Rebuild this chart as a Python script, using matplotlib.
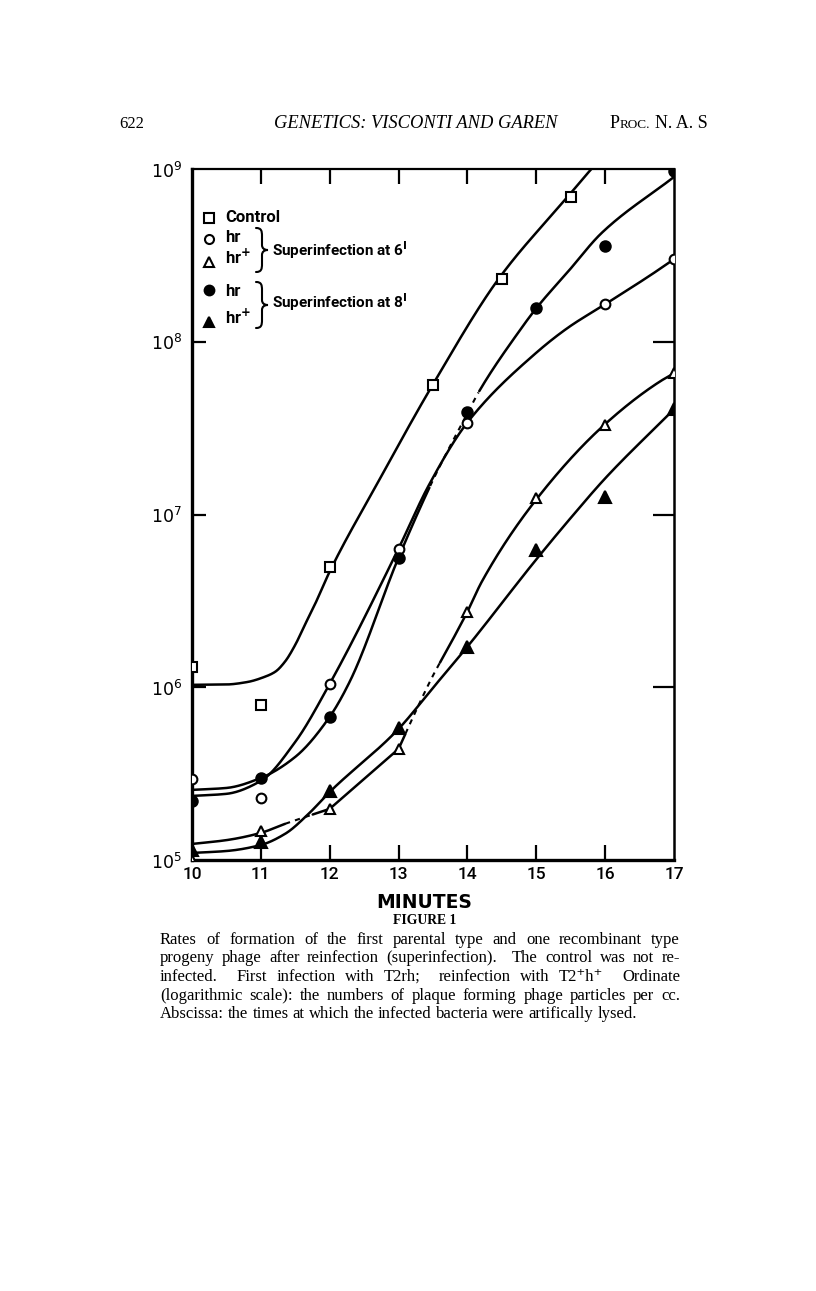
import re
import numpy as np
import matplotlib
matplotlib.use("Agg")
import matplotlib.pyplot as plt
from matplotlib.path import Path
from matplotlib.patches import PathPatch
from matplotlib.lines import Line2D
from matplotlib.transforms import Affine2D
from matplotlib.ticker import NullLocator

W, H = 816, 1291

# ---------------- data ----------------
minute_ticks = [10, 11, 12, 13, 14, 15, 16, 17]
decade_ticks = [1e5, 1e6, 1e7, 1e8, 1e9]
decade_labels = [r"$10^{5}$", r"$10^{6}$", r"$10^{7}$", r"$10^{8}$", r"$10^{9}$"]

# measured points
ctrl_t = [10, 11, 12, 13.5, 14.5, 15.5]
ctrl_v = [1.31e6, 7.9e5, 5.0e6, 5.6e7, 2.3e8, 6.9e8]
hr6_t = [10, 11, 12, 13, 14, 16, 17]
hr6_v = [2.95e5, 2.3e5, 1.05e6, 6.3e6, 3.4e7, 1.65e8, 3.0e8]
hrp6_t = [10, 11, 12, 13, 14, 15, 16, 17]
hrp6_v = [1.0e5, 1.47e5, 1.98e5, 4.4e5, 2.74e6, 1.24e7, 3.3e7, 6.6e7]
hr8_t = [10, 11, 12, 13, 14, 15, 16, 17]
hr8_v = [2.2e5, 3.0e5, 6.7e5, 5.6e6, 3.9e7, 1.56e8, 3.6e8, 9.7e8]
hrp8_t = [10, 11, 12, 13, 14, 15, 16, 17]
hrp8_v = [1.14e5, 1.27e5, 2.5e5, 5.8e5, 1.72e6, 6.2e6, 1.26e7, 4.1e7]

# hand-drawn fitted curves of the original: knots (minutes, log10 count);
# a curve may consist of several pieces that meet at a corner
ctrl_fit = [
    ([10, 10.5, 10.8, 11.06, 11.21, 11.35, 11.5, 11.64, 11.79, 12.0, 12.7, 13.5, 14.46, 15.44, 15.8, 16.1],
     [6.014, 6.016, 6.03, 6.061, 6.09, 6.148, 6.246, 6.362, 6.484, 6.67, 7.186, 7.754, 8.368, 8.832, 9.0, 9.13]),
]
hr6_fit = [
    ([10, 10.5, 11, 11.5, 12, 13, 13.44, 14, 14.99, 15.47, 16, 16.68, 17],
     [5.371, 5.383, 5.458, 5.684, 6.020, 6.803, 7.17, 7.533, 7.933, 8.084, 8.217, 8.391, 8.478]),
]
hr8_fit = [
    ([10, 10.5, 11, 11.5, 12, 12.29, 13, 13.49, 14, 14.17, 14.75, 15, 15.47, 15.95, 17],
     [5.406, 5.417, 5.475, 5.597, 5.829, 6.032, 6.751, 7.191, 7.586, 7.713, 8.06, 8.194, 8.41, 8.63, 8.954]),
]
hrp6_fit = [
    ([10, 10.5, 11, 11.35, 12], [5.093, 5.115, 5.157, 5.209, 5.296]),
    ([12, 12.5, 13], [5.296, 5.47, 5.643]),
    ([13, 13.26, 13.49, 13.77, 14, 14.21, 15, 15.98, 16.8, 17],
     [5.643, 5.87, 6.06, 6.264, 6.438, 6.612, 7.087, 7.516, 7.771, 7.817]),
]
hrp8_fit = [
    ([10, 10.5, 11, 11.35, 11.7, 12, 13, 13.5, 14, 15, 15.5, 16, 17],
     [5.041, 5.052, 5.087, 5.151, 5.27, 5.394, 5.759, 5.997, 6.235, 6.74, 6.98, 7.209, 7.609]),
]

# dashed stretches of the drawn curves (minutes)
hr8_dash = [(13.45, 14.17)]
hrp6_dash = [(11.35, 11.75), (13.1, 13.6)]

header_left = "622"
header_mid = "GENETICS: VISCONTI AND GAREN"
axis_title = "MINUTES"
fig_label = "FIGURE 1"
caption_lines = [
    "Rates of formation of the first parental type and one recombinant type",
    "progeny phage after reinfection (superinfection).  The control was not re-",
    "infected.  First infection with T2rh;  reinfection with T2\u207ah\u207a  Ordinate",
    "(logarithmic scale): the numbers of plaque forming phage particles per cc.",
    "Abscissa: the times at which the infected bacteria were artifically lysed.",
]

# ---------------- helpers ----------------
LETTER = "Roboto"
SERIF = ["Liberation Serif", "DejaVu Serif"]


def pchip(x, y, xn):
    x = np.asarray(x, float)
    y = np.asarray(y, float)
    n = len(x)
    h = np.diff(x)
    d = np.diff(y) / h
    m = np.zeros(n)
    for k in range(1, n - 1):
        if d[k - 1] * d[k] > 0:
            w1 = 2 * h[k] + h[k - 1]
            w2 = h[k] + 2 * h[k - 1]
            m[k] = (w1 + w2) / (w1 / d[k - 1] + w2 / d[k])
    m[0] = d[0]
    m[-1] = d[-1]
    idx = np.clip(np.searchsorted(x, xn) - 1, 0, n - 2)
    t = (xn - x[idx]) / h[idx]
    h00 = 2 * t**3 - 3 * t**2 + 1
    h10 = t**3 - 2 * t**2 + t
    h01 = -2 * t**3 + 3 * t**2
    h11 = t**3 - t**2
    return h00 * y[idx] + h10 * h[idx] * m[idx] + h01 * y[idx + 1] + h11 * h[idx] * m[idx + 1]


fig = plt.figure(figsize=(W / 100, H / 100), dpi=100)
fig.patch.set_facecolor("white")
pg = Affine2D().scale(1 / W, -1 / H).translate(0, 1) + fig.transFigure

ax = fig.add_axes([192 / W, 1 - 860 / H, (674 - 192) / W, (860 - 169) / H])
ax.set_yscale("log")
ax.set_xlim(10, 17)
ax.set_ylim(1e5, 1e9)


def draw_curve(pieces, dashes=()):
    for t, lg in pieces:
        x = np.linspace(t[0], t[-1], 600)
        y = 10 ** pchip(t, lg, x)
        solid = np.ones_like(x, bool)
        for a, b in dashes:
            solid &= ~((x > a) & (x < b))
        ax.plot(x, np.where(solid, y, np.nan), color="k", lw=1.8, zorder=2,
                solid_capstyle="round")
        for a, b in dashes:
            mm = (x >= a) & (x <= b)
            if mm.any():
                ax.plot(x[mm], y[mm], color="k", lw=1.5, ls=(0, (2.5, 2.5)), zorder=2)


draw_curve(ctrl_fit)
draw_curve(hr6_fit)
draw_curve(hr8_fit, hr8_dash)
draw_curve(hrp6_fit, hrp6_dash)
draw_curve(hrp8_fit)

mk = dict(ls="none", mec="k", mew=1.5, zorder=3, clip_on=True)
ax.plot(ctrl_t, ctrl_v, marker="s", ms=7, mfc="white", **mk)
ax.plot(hr6_t, hr6_v, marker="o", ms=7, mfc="white", **mk)
ax.plot(hrp6_t, hrp6_v, marker="^", ms=7.5, mfc="white", **mk)
ax.plot(hr8_t, hr8_v, marker="o", ms=7.5, mfc="k", **mk)
ax.plot(hrp8_t, hrp8_v, marker="^", ms=8, mfc="k", **mk)

# axes frame and ticks
for side, lw in (("left", 2.4), ("bottom", 2.4), ("top", 1.6), ("right", 1.8)):
    ax.spines[side].set_linewidth(lw)
ax.set_xticks(minute_ticks)
ax.set_xticklabels([str(v) for v in minute_ticks])
ax.set_yticks(decade_ticks)
ax.set_yticklabels(decade_labels)
ax.yaxis.set_minor_locator(NullLocator())
ax.xaxis.set_minor_locator(NullLocator())
ax.tick_params(axis="x", direction="in", length=11, width=1.6, top=True, bottom=True,
               labelsize=12.5, pad=5)
ax.tick_params(axis="y", direction="in", length=10, width=1.6, left=True, right=True,
               labelsize=12.5, pad=7)
yt = ax.yaxis.get_major_ticks()
for tk in yt:
    tk.tick2line.set_markersize(15)
for tk in (yt[0], yt[-1]):
    tk.tick1line.set_visible(False)
    tk.tick2line.set_visible(False)
xt = ax.xaxis.get_major_ticks()
for tk in (xt[0], xt[-1]):
    tk.tick1line.set_visible(False)
    tk.tick2line.set_visible(False)
for lab in ax.get_xticklabels() + ax.get_yticklabels():
    lab.set_family(LETTER)
    lab.set_fontweight("medium")

# ---------------- legend (hand lettered in the original) ----------------
def pmark(x, y, marker, fc, ms):
    fig.add_artist(Line2D([x], [y], transform=pg, marker=marker, ms=ms, mfc=fc,
                          mec="k", mew=1.5, ls="none"))


def ptext(x, y, s, **kw):
    return fig.text(x, y, s, transform=pg, **kw)


def brace(x0, ytop, ybot, w=12):
    ym = (ytop + ybot) / 2
    xm = x0 + w / 2
    verts = [(x0, ytop), (x0 + w * 0.45, ytop), (xm, ytop + 3), (xm, ytop + 8),
             (xm, ym - 5),
             (xm, ym - 2), (xm + 2, ym), (x0 + w, ym),
             (xm + 2, ym), (xm, ym + 2), (xm, ym + 5),
             (xm, ybot - 8),
             (xm, ybot - 3), (x0 + w * 0.45, ybot), (x0, ybot)]
    codes = [Path.MOVETO, Path.CURVE4, Path.CURVE4, Path.CURVE4, Path.LINETO,
             Path.CURVE4, Path.CURVE4, Path.CURVE4,
             Path.CURVE4, Path.CURVE4, Path.CURVE4, Path.LINETO,
             Path.CURVE4, Path.CURVE4, Path.CURVE4]
    fig.add_artist(PathPatch(Path(verts, codes), transform=pg, fill=False, lw=1.5,
                             ec="k", capstyle="round"))


lk = dict(family=LETTER, fontweight="bold", fontsize=12, va="center", ha="left")
pmark(209, 218, "s", "white", 6.5)
ptext(225, 217, "Control", **lk)
pmark(209, 239, "o", "white", 6.5)
ptext(225, 237, "hr", **lk)
pmark(209, 262, "^", "white", 7)
ptext(225, 257, r"hr$^{\mathbf{+}}$", **lk)
brace(256, 228, 272)
ptext(272, 250, r"Superinfection at 6$^{\mathbf{I}}$", **dict(lk, fontsize=11))
pmark(209, 290, "o", "k", 7)
ptext(225, 291, "hr", **lk)
pmark(209, 322, "^", "k", 7.5)
ptext(225, 317, r"hr$^{\mathbf{+}}$", **lk)
brace(256, 282, 328)
ptext(272, 302, r"Superinfection at 8$^{\mathbf{I}}$", **dict(lk, fontsize=11))

# ---------------- page text ----------------
ptext(424, 902, axis_title, family="DejaVu Sans", fontweight="bold", fontsize=13.5,
      ha="center", va="center")
ptext(425, 920, fig_label, family=SERIF, fontweight="bold", fontsize=9.8,
      ha="center", va="center")

ptext(119, 128, header_left, family=SERIF, fontsize=12, ha="left", va="baseline")
ptext(416, 128, header_mid, family=SERIF, style="italic", fontsize=13.3,
      ha="center", va="baseline")
ptext(610, 128, "P", family=SERIF, fontsize=13, ha="left", va="baseline")
ptext(620, 128, "ROC.", family=SERIF, fontsize=9.5, ha="left", va="baseline")
ptext(708, 128, "N. A. S", family=SERIF, fontsize=13, ha="right", va="baseline")

renderer = fig.canvas.get_renderer()


def twidth(s, size):
    t = fig.text(0, 0, s, family=SERIF, fontsize=size)
    w = t.get_window_extent(renderer).width
    t.remove()
    return w


x0c, x1c, x_last = 160, 680, 637
base = 10.0
cap_size = base * (x_last - x0c) / twidth(" ".join(caption_lines[-1].split()), base)
baselines = [944, 962.5, 981, 999.5, 1018]
space_w = twidth("a a", cap_size) - twidth("aa", cap_size)
for i, (line, yb) in enumerate(zip(caption_lines, baselines)):
    parts = re.split(r"( +)", line)
    words = parts[0::2]
    spaces = [len(s) for s in parts[1::2]]
    widths = [twidth(wd, cap_size) for wd in words]
    if i < len(caption_lines) - 1:
        unit = (x1c - x0c - sum(widths)) / sum(spaces)
    else:
        unit = space_w
    x = x0c
    for k, wd in enumerate(words):
        ptext(x, yb, wd, family=SERIF, fontsize=cap_size, ha="left", va="baseline")
        if k < len(spaces):
            x += widths[k] + unit * spaces[k]

fig.savefig("out.png", dpi=100, facecolor="white")
